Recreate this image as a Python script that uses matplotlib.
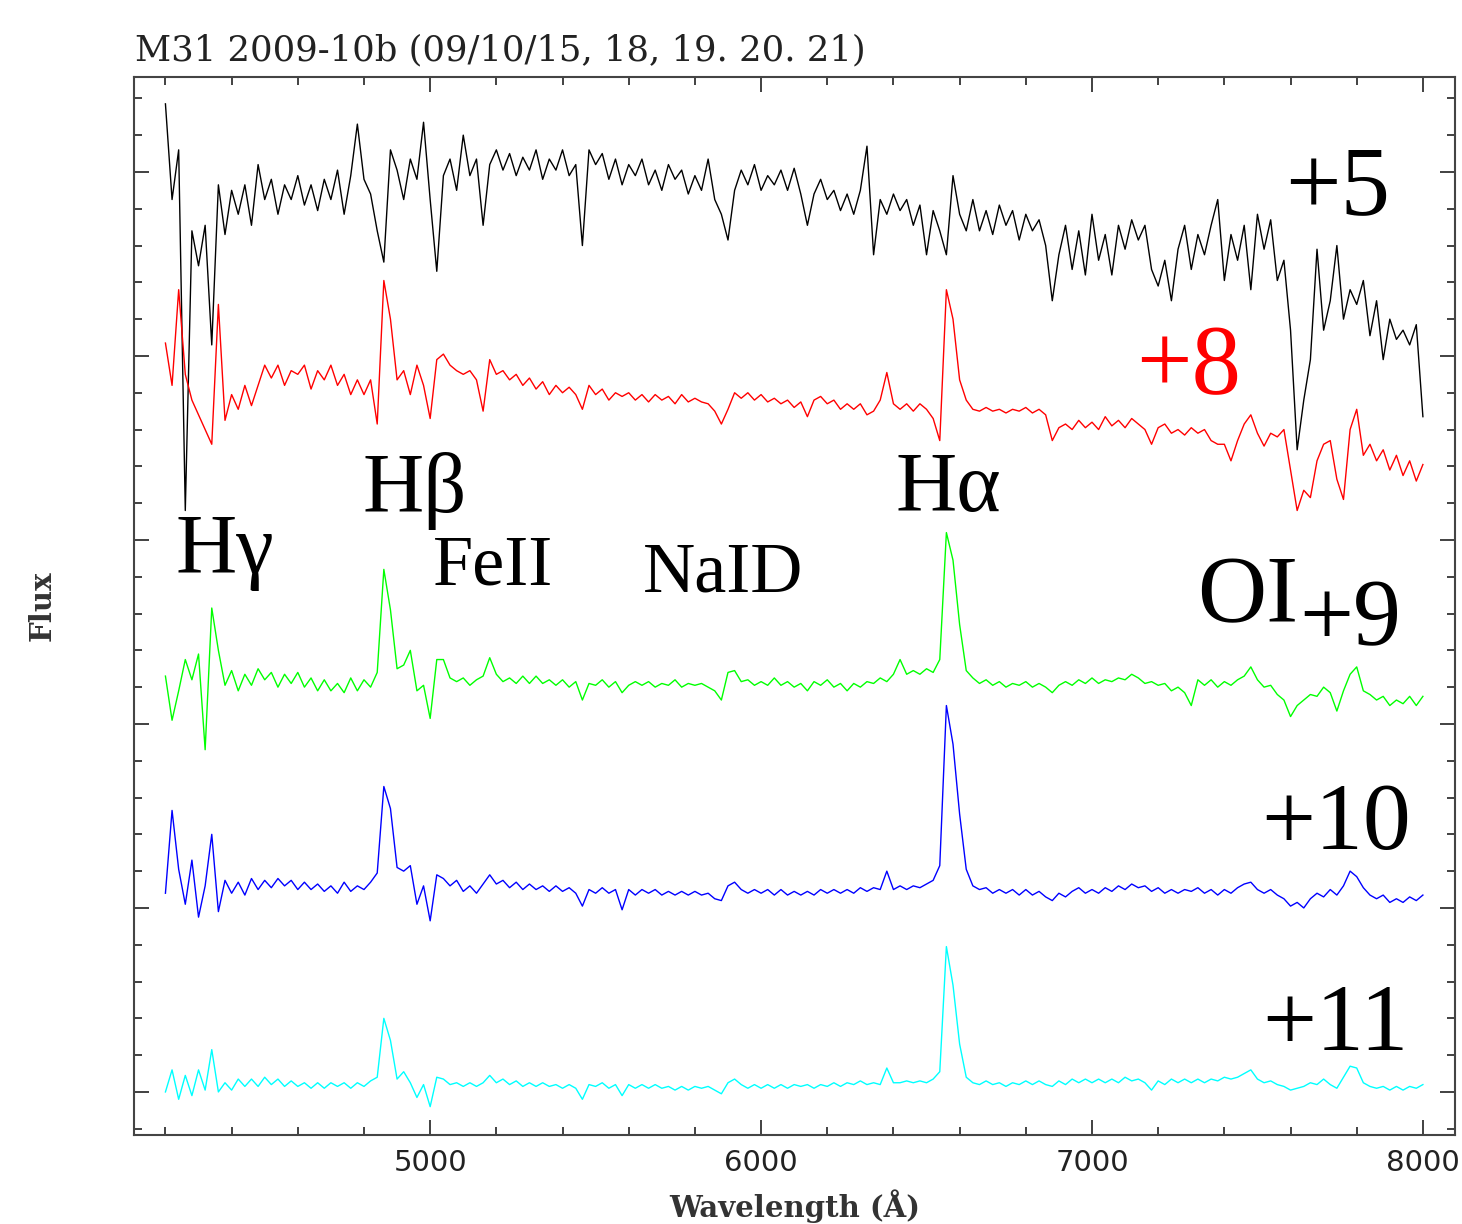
import numpy as np
import matplotlib.pyplot as plt
from matplotlib.ticker import MultipleLocator

# wavelength grid of the spectra (Angstrom)
wave = np.arange(4200, 8001, 20)

# plotted flux (offsets already included)
flux_black = [
    5.37, 4.85, 5.12, 3.16, 4.68, 4.49, 4.71, 4.06, 4.93, 4.66,
    4.90, 4.77, 4.93, 4.71, 5.04, 4.85, 4.96, 4.77, 4.93, 4.85,
    4.98, 4.82, 4.93, 4.79, 4.96, 4.85, 5.01, 4.77, 4.98, 5.26,
    4.96, 4.88, 4.68, 4.51, 5.12, 5.01, 4.85, 5.07, 4.96, 5.27,
    4.85, 4.46, 4.98, 5.07, 4.90, 5.20, 4.98, 5.07, 4.71, 5.04,
    5.12, 5.01, 5.10, 4.98, 5.08, 5.01, 5.12, 4.96, 5.07, 5.01,
    5.12, 4.98, 5.04, 4.60, 5.12, 5.04, 5.10, 4.96, 5.07, 4.93,
    5.04, 4.98, 5.07, 4.93, 5.01, 4.90, 5.04, 4.96, 5.01, 4.88,
    4.98, 4.90, 5.07, 4.85, 4.77, 4.63, 4.90, 5.01, 4.93, 5.04,
    4.90, 4.98, 4.93, 5.01, 4.90, 5.02, 4.88, 4.71, 4.88, 4.96,
    4.85, 4.90, 4.79, 4.88, 4.77, 4.90, 5.14, 4.55, 4.85, 4.77,
    4.88, 4.79, 4.85, 4.71, 4.82, 4.55, 4.79, 4.68, 4.55, 4.98,
    4.77, 4.68, 4.85, 4.68, 4.79, 4.66, 4.82, 4.71, 4.79, 4.63,
    4.77, 4.68, 4.74, 4.60, 4.30, 4.55, 4.71, 4.47, 4.68, 4.44,
    4.77, 4.52, 4.66, 4.44, 4.71, 4.58, 4.74, 4.63, 4.71, 4.47,
    4.38, 4.52, 4.30, 4.58, 4.71, 4.47, 4.66, 4.55, 4.71, 4.85,
    4.41, 4.66, 4.52, 4.71, 4.36, 4.77, 4.58, 4.74, 4.41, 4.52,
    4.14, 3.49, 3.76, 3.98, 4.58, 4.14, 4.30, 4.60, 4.20, 4.36,
    4.28, 4.41, 4.11, 4.30, 3.98, 4.20, 4.09, 4.14, 4.06, 4.17,
    3.67,
]
flux_red = [
    4.07, 3.84, 4.36, 3.90, 3.76, 3.68, 3.60, 3.52, 4.28, 3.65,
    3.79, 3.71, 3.84, 3.73, 3.84, 3.95, 3.88, 3.95, 3.84, 3.92,
    3.90, 3.95, 3.82, 3.92, 3.87, 3.95, 3.84, 3.90, 3.79, 3.87,
    3.79, 3.87, 3.63, 4.41, 4.20, 3.87, 3.92, 3.79, 3.95, 3.84,
    3.66, 3.98, 4.01, 3.95, 3.92, 3.90, 3.92, 3.87, 3.70, 3.98,
    3.90, 3.92, 3.87, 3.90, 3.84, 3.88, 3.82, 3.86, 3.79, 3.84,
    3.80, 3.83, 3.79, 3.71, 3.84, 3.79, 3.82, 3.76, 3.80, 3.78,
    3.80, 3.76, 3.79, 3.75, 3.79, 3.76, 3.78, 3.74, 3.79, 3.75,
    3.77, 3.75, 3.74, 3.70, 3.63, 3.71, 3.80, 3.77, 3.80, 3.76,
    3.79, 3.75, 3.77, 3.74, 3.76, 3.72, 3.75, 3.67, 3.76, 3.78,
    3.74, 3.76, 3.71, 3.74, 3.71, 3.74, 3.68, 3.70, 3.76, 3.91,
    3.74, 3.71, 3.74, 3.70, 3.74, 3.71, 3.66, 3.54, 4.36, 4.20,
    3.87, 3.76, 3.71, 3.70, 3.72, 3.70, 3.71, 3.69, 3.71, 3.70,
    3.72, 3.69, 3.71, 3.68, 3.54, 3.61, 3.63, 3.60, 3.65, 3.61,
    3.64, 3.60, 3.67, 3.62, 3.65, 3.61, 3.66, 3.63, 3.60, 3.52,
    3.61, 3.63, 3.58, 3.60, 3.57, 3.61, 3.58, 3.60, 3.54, 3.52,
    3.52, 3.43, 3.54, 3.63, 3.68, 3.58, 3.51, 3.58, 3.56, 3.60,
    3.38, 3.16, 3.27, 3.23, 3.43, 3.52, 3.54, 3.33, 3.22, 3.60,
    3.71, 3.46, 3.52, 3.43, 3.49, 3.38, 3.46, 3.35, 3.43, 3.32,
    3.41,
]
flux_green = [
    2.26, 2.02, 2.18, 2.35, 2.24, 2.38, 1.86, 2.63, 2.40, 2.21,
    2.29, 2.18, 2.27, 2.21, 2.30, 2.24, 2.28, 2.20, 2.27, 2.22,
    2.28, 2.20, 2.25, 2.18, 2.24, 2.18, 2.22, 2.17, 2.25, 2.18,
    2.24, 2.20, 2.28, 2.84, 2.62, 2.30, 2.32, 2.40, 2.18, 2.21,
    2.03, 2.35, 2.35, 2.25, 2.23, 2.25, 2.21, 2.24, 2.26, 2.36,
    2.27, 2.23, 2.25, 2.22, 2.26, 2.22, 2.26, 2.22, 2.24, 2.21,
    2.24, 2.20, 2.23, 2.13, 2.22, 2.21, 2.24, 2.20, 2.23, 2.17,
    2.21, 2.23, 2.21, 2.23, 2.20, 2.22, 2.21, 2.24, 2.20, 2.22,
    2.21, 2.22, 2.20, 2.18, 2.13, 2.28, 2.29, 2.23, 2.24, 2.21,
    2.23, 2.21, 2.25, 2.21, 2.23, 2.20, 2.22, 2.18, 2.23, 2.21,
    2.24, 2.20, 2.22, 2.18, 2.22, 2.20, 2.23, 2.22, 2.25, 2.23,
    2.27, 2.35, 2.27, 2.29, 2.27, 2.30, 2.28, 2.35, 3.04, 2.89,
    2.54, 2.29, 2.25, 2.22, 2.24, 2.21, 2.23, 2.20, 2.22, 2.21,
    2.23, 2.20, 2.22, 2.20, 2.17, 2.21, 2.23, 2.21, 2.24, 2.22,
    2.25, 2.22, 2.24, 2.23, 2.25, 2.24, 2.27, 2.25, 2.22, 2.23,
    2.21, 2.22, 2.18, 2.20, 2.17, 2.10, 2.24, 2.21, 2.24, 2.20,
    2.23, 2.21, 2.24, 2.26, 2.31, 2.24, 2.20, 2.21, 2.16, 2.13,
    2.04, 2.10, 2.13, 2.16, 2.15, 2.20, 2.17, 2.07, 2.18, 2.27,
    2.31, 2.18, 2.16, 2.13, 2.15, 2.10, 2.13, 2.11, 2.15, 2.10,
    2.15,
]
flux_blue = [
    1.08, 1.53, 1.21, 1.02, 1.26, 0.95, 1.12, 1.40, 0.98, 1.15,
    1.08, 1.14, 1.07, 1.16, 1.10, 1.15, 1.11, 1.16, 1.12, 1.15,
    1.10, 1.14, 1.10, 1.13, 1.09, 1.12, 1.08, 1.14, 1.09, 1.12,
    1.10, 1.14, 1.19, 1.66, 1.54, 1.22, 1.20, 1.23, 1.02, 1.12,
    0.93, 1.18, 1.16, 1.12, 1.15, 1.09, 1.12, 1.08, 1.13, 1.18,
    1.13, 1.15, 1.11, 1.14, 1.10, 1.13, 1.10, 1.12, 1.09, 1.12,
    1.09, 1.11, 1.08, 1.01, 1.10, 1.08, 1.11, 1.08, 1.10, 0.99,
    1.10, 1.07, 1.10, 1.08, 1.10, 1.07, 1.09, 1.07, 1.09, 1.07,
    1.09, 1.07, 1.08, 1.05, 1.04, 1.12, 1.14, 1.10, 1.08, 1.10,
    1.08, 1.10, 1.07, 1.10, 1.07, 1.09, 1.07, 1.09, 1.07, 1.10,
    1.08, 1.10, 1.08, 1.10, 1.08, 1.11, 1.09, 1.11, 1.10, 1.20,
    1.10, 1.12, 1.10, 1.12, 1.11, 1.13, 1.15, 1.23, 2.10, 1.89,
    1.51, 1.21, 1.12, 1.10, 1.11, 1.08, 1.10, 1.08, 1.10, 1.07,
    1.10, 1.07, 1.09, 1.06, 1.04, 1.08, 1.06, 1.09, 1.11, 1.08,
    1.10, 1.08, 1.11, 1.09, 1.12, 1.10, 1.13, 1.11, 1.12, 1.09,
    1.11, 1.08, 1.10, 1.08, 1.10, 1.09, 1.11, 1.08, 1.10, 1.07,
    1.10, 1.08, 1.11, 1.13, 1.14, 1.10, 1.08, 1.10, 1.07, 1.05,
    1.01, 1.03, 1.00, 1.05, 1.08, 1.06, 1.10, 1.07, 1.12, 1.20,
    1.17, 1.11, 1.07, 1.05, 1.07, 1.03, 1.05, 1.03, 1.06, 1.04,
    1.07,
]
flux_cyan = [
    0.00, 0.12, -0.04, 0.09, -0.02, 0.12, 0.01, 0.23, 0.00, 0.05,
    0.01, 0.07, 0.03, 0.07, 0.03, 0.08, 0.04, 0.07, 0.03, 0.06,
    0.03, 0.05, 0.02, 0.05, 0.02, 0.05, 0.03, 0.05, 0.02, 0.05,
    0.03, 0.06, 0.08, 0.40, 0.28, 0.07, 0.11, 0.05, -0.03, 0.04,
    -0.08, 0.08, 0.07, 0.04, 0.05, 0.03, 0.05, 0.03, 0.05, 0.09,
    0.05, 0.07, 0.04, 0.06, 0.03, 0.05, 0.03, 0.05, 0.03, 0.04,
    0.02, 0.04, 0.02, -0.04, 0.04, 0.03, 0.05, 0.02, 0.04, -0.02,
    0.04, 0.02, 0.04, 0.02, 0.04, 0.02, 0.03, 0.01, 0.03, 0.01,
    0.03, 0.02, 0.03, 0.01, -0.01, 0.05, 0.07, 0.04, 0.02, 0.04,
    0.02, 0.04, 0.02, 0.04, 0.02, 0.04, 0.03, 0.04, 0.02, 0.04,
    0.03, 0.05, 0.03, 0.05, 0.04, 0.06, 0.04, 0.05, 0.04, 0.13,
    0.05, 0.05, 0.06, 0.05, 0.06, 0.05, 0.07, 0.11, 0.79, 0.58,
    0.26, 0.08, 0.05, 0.04, 0.06, 0.04, 0.05, 0.03, 0.05, 0.04,
    0.06, 0.04, 0.06, 0.04, 0.03, 0.06, 0.04, 0.07, 0.05, 0.07,
    0.05, 0.07, 0.05, 0.07, 0.05, 0.08, 0.06, 0.07, 0.05, 0.01,
    0.06, 0.04, 0.07, 0.05, 0.07, 0.05, 0.07, 0.05, 0.07, 0.06,
    0.08, 0.07, 0.08, 0.10, 0.12, 0.07, 0.05, 0.06, 0.04, 0.03,
    0.01, 0.02, 0.03, 0.05, 0.04, 0.07, 0.04, 0.02, 0.08, 0.14,
    0.13, 0.05, 0.03, 0.02, 0.03, 0.01, 0.03, 0.01, 0.03, 0.02,
    0.04,
]

spectra = [flux_black, flux_red, flux_green, flux_blue, flux_cyan]
colors = ['black', '#ff0000', '#00ff00', '#0000ff', '#00ffff']

# line labels and offset labels: (text, wavelength, flux, size, colour)
labels = [
    ('+5', 7585, 4.77, 71, 'black'),
    ('+8', 7132, 3.80, 71, '#ff0000'),
    ('Hβ', 4797, 3.15, 61, 'black'),
    ('Hα', 6406, 3.16, 61, 'black'),
    ('Hγ', 4229, 2.82, 61, 'black'),
    ('FeII', 5009, 2.76, 52, 'black'),
    ('NaID', 5644, 2.72, 52, 'black'),
    ('OI', 7319, 2.55, 69, 'black'),
    ('+9', 7625, 2.43, 69, 'black'),
    ('+10', 7510, 1.32, 69, 'black'),
    ('+11', 7516, 0.23, 69, 'black'),
]

fig = plt.figure(figsize=(14.62, 12.24), dpi=100)
ax = fig.add_axes([134 / 1462, 1 - 1135 / 1224, 1321 / 1462, 1058 / 1224])

for f, c in zip(spectra, colors):
    ax.plot(wave, f, color=c, lw=1.0)

ax.set_xlim(4105, 8097)
ax.set_ylim(-0.234, 5.516)
ax.xaxis.set_major_locator(MultipleLocator(1000))
ax.xaxis.set_minor_locator(MultipleLocator(200))
ax.yaxis.set_major_locator(MultipleLocator(1))
ax.yaxis.set_minor_locator(MultipleLocator(0.2))
ax.tick_params(which='both', direction='in', top=True, right=True,
               color='#333333', width=1.3)
ax.tick_params(which='major', length=11)
ax.tick_params(which='minor', length=6)
ax.tick_params(axis='y', labelleft=False)
ax.tick_params(axis='x', labelsize=21, pad=10, labelcolor='#222222')
for sp in ax.spines.values():
    sp.set_color('#444444')
    sp.set_linewidth(1.5)

for txt, x, y, size, c in labels:
    ax.text(x, y, txt, fontsize=size, color=c, ha='left', va='baseline',
            family=['Liberation Serif', 'DejaVu Serif'])

fig.text(135 / 1462, 1 - 50 / 1224, 'M31 2009-10b (09/10/15, 18, 19. 20. 21)',
         family='DejaVu Serif', fontsize=25.5, ha='left', va='center', color='#222222')
fig.text(795 / 1462, 1 - 1206 / 1224, 'Wavelength (Å)', family='DejaVu Serif',
         fontsize=21, fontweight='bold', ha='center', va='center', color='#333333')
fig.text(42 / 1462, 1 - 606 / 1224, 'Flux', family='DejaVu Serif', fontsize=21,
         fontweight='bold', rotation=90, ha='center', va='center', color='#333333')

fig.savefig('out.png', dpi=100)
